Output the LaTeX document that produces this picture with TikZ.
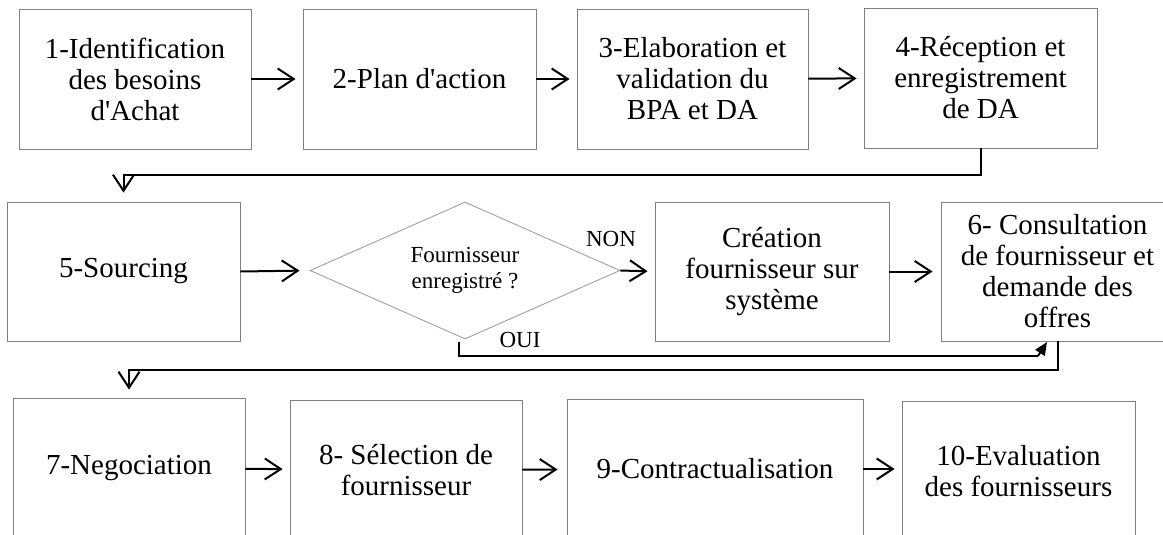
\documentclass[tikz,border=0pt]{standalone}
\usepackage{fontspec}
\setmainfont{Liberation Serif}[Ligatures=TeXOff]
\usetikzlibrary{arrows.meta,shapes.geometric,calc}
\definecolor{boxgray}{HTML}{808080}
\definecolor{diagray}{HTML}{A0A0A0}
\begin{document}
\begin{tikzpicture}[x=1pt,y=-1pt,
  stepbox/.style={draw=boxgray, line width=0.9pt, rectangle, inner sep=0pt,
    align=center, font=\fontsize{29}{31}\selectfont, minimum height=140pt},
  decision/.style={draw=diagray, line width=0.9pt, diamond, inner sep=0pt,
    aspect=2.26, align=center, font=\fontsize{23}{26}\selectfont,
    minimum width=310pt, minimum height=137pt},
  lbl/.style={inner sep=0pt, font=\fontsize{23}{26}\selectfont},
  conn/.style={line width=2pt, -{Straight Barb[length=16pt,width=21pt]}, shorten >=7pt},
  plainline/.style={line width=2pt}
]
\useasboundingbox (0,0) rectangle (1163,535);
\clip (0,0) rectangle (1163,535);

% row 1
\node[stepbox, minimum width=232pt] (b1) at (135,79) {1-Identification\\des besoins\\d'Achat};
\node[stepbox, minimum width=233pt] (b2) at (419.5,79) {2-Plan d'action};
\node[stepbox, minimum width=231pt] (b3) at (692.5,79) {3-Elaboration et\\validation du\\BPA et DA};
\node[stepbox, minimum width=233pt] (b4) at (980.5,78) {4-Réception et\\enregistrement\\de DA};

% row 2
\node[stepbox, minimum width=233pt, minimum height=139pt] (b5) at (123.5,271.5) {5-Sourcing};
\node[decision] (dia) at (465,270.5) {Fournisseur\\enregistré ?};
\node[stepbox, minimum width=234pt, minimum height=139pt] (cr) at (772,271.5) {Création\\fournisseur sur\\système};
\node[stepbox, minimum width=233pt, minimum height=139pt] (b6) at (1057.5,271.5) {6- Consultation\\de fournisseur et\\demande des\\offres};

% row 3
\node[stepbox, minimum width=232pt] (b7) at (129,468) {7-Negociation};
\node[stepbox, minimum width=232pt] (b8) at (406,470) {8- Sélection de\\fournisseur};
\node[stepbox, minimum width=296pt] (b9) at (715,469) {9-Contractualisation};
\node[stepbox, minimum width=233pt] (b10) at (1018.5,471) {10-Evaluation\\des fournisseurs};

% decision labels
\node[lbl] (non) at (611,239) {NON};
\node[lbl] (oui) at (520,340) {OUI};

% routing levels
\coordinate (lvlA) at (0,175);
\coordinate (lvlB) at (0,370);
\coordinate (ouistart) at ($(dia.south)+(-6,3)$);
\coordinate (ouibend) at (1038,356);
\coordinate (ouitip) at (1047,342);

% straight connectors
\draw[conn] (b1) -- (b2);
\draw[conn] (b2) -- (b3);
\draw[conn] (b3) -- (b4);
\draw[conn, shorten >=10pt] (b5.east) -- (dia.west);
\draw[conn] (dia.east) -- (cr.west);
\draw[conn, shorten >=8pt] (cr) -- (b6);
\draw[conn] (b7) -- (b8);
\draw[conn, shorten >=9pt] (b8) -- (b9);
\draw[conn] (b9.east) -- (b10.west |- b9.east);

% row changes
\draw[conn, shorten >=9pt] (b4.south) -- (b4.south |- lvlA) -| (b5.north);
\draw[conn, shorten >=8pt] (b6.south) -- (b6.south |- lvlB) -| (b7.north);

% OUI branch
\draw[plainline] (ouistart) |- (ouibend);
\draw[plainline, -{Triangle[length=13pt,width=11pt]}] (ouibend) -- (ouitip);
\end{tikzpicture}
\end{document}
